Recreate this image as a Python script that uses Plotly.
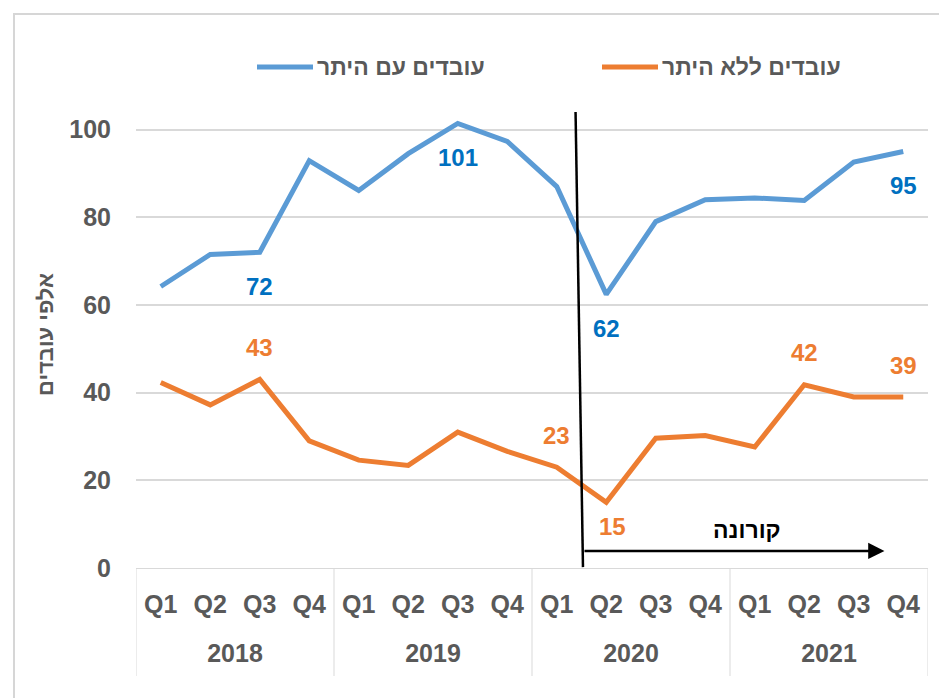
import plotly.graph_objects as go

years = ["2018", "2019", "2020", "2021"]
quarters = ["Q1", "Q2", "Q3", "Q4"]

with_permit = [64.2, 71.5, 72, 92.9, 86.1, 94.5, 101.4, 97.3,
               87.0, 62.4, 79.0, 84.0, 84.4, 83.8, 92.6, 95.0]
without_permit = [42.3, 37.2, 43.0, 29.0, 24.6, 23.4, 31.0, 26.6,
                  23.0, 15.0, 29.6, 30.2, 27.6, 41.8, 39.0, 39.0]

name_with = "עובדים עם היתר"
name_without = "עובדים ללא היתר"
y_title = "אלפי עובדים"
corona_text = "קורונה"

# indices of labelled points, and whether label is above (+1) or below (-1)
blue_label_idx = [2, 6, 9, 15]
blue_label_pos = [-1, -1, -1, -1]
orange_label_idx = [2, 8, 9, 13, 15]
orange_label_pos = [1, 1, -1, 1, 1]

BLUE = "#5b9bd5"
BLUE_TXT = "#0070c0"
ORANGE = "#ed7d31"
GRID = "#d9d9d9"
TXT = "#595959"
FONT = "Liberation Sans, Arial, sans-serif"

n_pts = len(years) * len(quarters)
# second level gets an empty extra line so the year row sits lower, like the original
x_multi = [[y for y in years for _ in quarters], [q + "<br> " for _ in years for q in quarters]]

fig = go.Figure()
fig.add_trace(go.Scatter(x=x_multi, y=with_permit, mode="lines", name=name_with,
                         line=dict(color=BLUE, width=5)))
fig.add_trace(go.Scatter(x=x_multi, y=without_permit, mode="lines", name=name_without,
                         line=dict(color=ORANGE, width=5)))

OFF = 8  # page offset of the figure
L, R, T, B = 128, 27, 104, 138
W, H = 947, 698
pw, ph = W - L - R, H - T - B


def px_x(p):
    return (p - OFF - L) / pw


def px_y(p):
    return (H - B - (p - OFF)) / ph


annotations = []
for idx, pos in zip(blue_label_idx, blue_label_pos):
    annotations.append(dict(x=idx, y=with_permit[idx], xref="x", yref="y",
                            text=str(round(with_permit[idx])), showarrow=False,
                            yshift=34 * pos, font=dict(family=FONT, size=24, color=BLUE_TXT, weight=700)))
for idx, pos in zip(orange_label_idx, orange_label_pos):
    xs = 6 if idx == 9 else 0
    annotations.append(dict(x=idx, y=without_permit[idx], xref="x", yref="y",
                            text=str(round(without_permit[idx])), showarrow=False,
                            yshift=(32 if pos > 0 else -24), xshift=xs,
                            font=dict(family=FONT, size=24, color=ORANGE, weight=700)))

# y-axis title
annotations.append(dict(x=px_x(45), y=px_y(335), xref="paper", yref="paper", text=y_title,
                        textangle=-90, showarrow=False, xanchor="center", yanchor="middle",
                        font=dict(family=FONT, size=22, color=TXT, weight=700)))
# corona arrow
annotations.append(dict(x=14.62, y=3.9, ax=8.53, ay=3.9, xref="x", yref="y", axref="x", ayref="y",
                        text="", showarrow=True, arrowhead=2, arrowsize=1.3, arrowwidth=2.5,
                        arrowcolor="black"))
annotations.append(dict(x=11.84, y=8.7, xref="x", yref="y", text=corona_text, showarrow=False,
                        font=dict(family=FONT, size=23, color="black", weight=700)))

# legend (drawn by hand for the long Excel-style keys)
legend_items = [(name_with, BLUE, 257), (name_without, ORANGE, 602)]
shapes = []
for name, col, x0 in legend_items:
    shapes.append(dict(type="line", xref="paper", yref="paper", x0=px_x(x0), x1=px_x(x0 + 56),
                       y0=px_y(67), y1=px_y(67), line=dict(color=col, width=5)))
    annotations.append(dict(x=px_x(x0 + 58), y=px_y(67), xref="paper", yref="paper", text=name,
                            xanchor="left", yanchor="middle", showarrow=False,
                            font=dict(family=FONT, size=23, color=TXT, weight=700)))

shapes += [
    dict(type="rect", xref="paper", yref="paper", x0=px_x(14), x1=px_x(990), y0=px_y(740), y1=px_y(14),
         fillcolor="rgba(0,0,0,0)", line=dict(color="#d6d6d6", width=2), layer="below"),
    dict(type="line", xref="x", yref="y", x0=8.38, y0=104, x1=8.53, y1=0.2,
         line=dict(color="black", width=2.5)),
]
# category box: vertical dividers at year boundaries and outer edges
for k in range(len(years) + 1):
    xb = k * len(quarters) - 0.5
    shapes.append(dict(type="line", xref="x", yref="paper", x0=xb, x1=xb, y0=0, y1=px_y(676),
                       line=dict(color=GRID, width=1)))

fig.update_layout(
    width=W, height=H,
    margin=dict(l=L, r=R, t=T, b=B, autoexpand=False),
    paper_bgcolor="white",
    plot_bgcolor="rgba(0,0,0,0)",
    showlegend=False,
    annotations=annotations,
    shapes=shapes,
    xaxis=dict(type="multicategory", range=[-0.5, n_pts - 0.5], showline=True, linecolor=GRID,
               linewidth=1, automargin=False, showgrid=False, ticks="", showdividers=False,
               ticklabelstandoff=14,
               tickfont=dict(family=FONT, size=25, color=TXT, weight=700)),
    yaxis=dict(range=[0, 104], tickvals=[0, 20, 40, 60, 80, 100], showgrid=True, gridcolor=GRID,
               gridwidth=1.5, zeroline=False, showline=False, ticklabelstandoff=24, automargin=False,
               tickfont=dict(family=FONT, size=25, color=TXT, weight=700)),
)

fig.write_html("out.html")
